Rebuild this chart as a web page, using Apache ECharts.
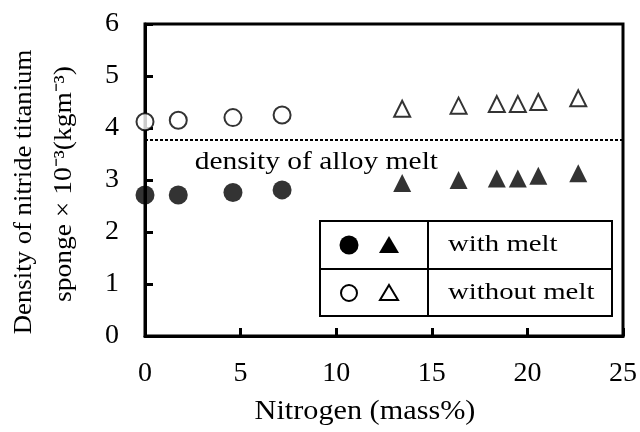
<!DOCTYPE html>
<html>
<head>
<meta charset="utf-8">
<script src="https://cdn.jsdelivr.net/npm/echarts@6/dist/echarts.min.js"></script>
<style>html,body{margin:0;padding:0;background:#fff;}#c{width:640px;height:432px;}</style>
</head>
<body>
<div id="c"></div>
<script>
var xTicks = [0, 5, 10, 15, 20, 25];
var yTicks = [0, 1, 2, 3, 4, 5, 6];
var withMeltCircles = [[0, 2.71], [1.74, 2.71], [4.6, 2.76], [7.17, 2.81]];
var withoutMeltCircles = [[0, 4.12], [1.74, 4.15], [4.6, 4.2], [7.17, 4.25]];
var withMeltTriangles = [[13.45, 2.94], [16.4, 3.0], [18.4, 3.03], [19.5, 3.03], [20.57, 3.08], [22.66, 3.13]];
var withoutMeltTriangles = [[13.45, 4.37], [16.4, 4.43], [18.4, 4.46], [19.5, 4.46], [20.57, 4.5], [22.66, 4.57]];
var alloyMeltDensity = 3.77;
var xTitle = 'Nitrogen (mass%)';
var yTitle1 = 'Density of nitride titanium';
var yTitle2 = 'sponge \u00d7 10\u207b\u00b3(kgm\u207b\u00b3)';
var legendLabels = ['with melt', 'without melt'];
var annotation = 'density of alloy melt';

var FONT = 'Liberation Serif, Times New Roman, Times, serif';
var chart = echarts.init(document.getElementById('c'));
function mk(name, data, symbol, filled, size) {
  return {
    name: name, type: 'scatter', data: data, symbol: symbol, symbolSize: size,
    itemStyle: filled ? {color: '#000'} : {color: '#fff', borderColor: '#000', borderWidth: 2},
    z: 3
  };
}
var series = [
  mk('wmc', withMeltCircles, 'circle', true, 19),
  mk('womc', withoutMeltCircles, 'circle', false, 17),
  mk('wmt', withMeltTriangles, 'triangle', true, 18),
  mk('womt', withoutMeltTriangles, 'triangle', false, 16)
];
series[0].markLine = {
  silent: true, symbol: 'none', label: {show: false},
  lineStyle: {color: '#000', type: [3, 2], width: 2},
  data: [{yAxis: alloyMeltDensity}]
};
chart.setOption({
  animation: false,
  backgroundColor: '#fff',
  grid: {left: 145, right: 15, top: 24, bottom: 96, show: true, borderColor: '#000', borderWidth: 3, backgroundColor: 'transparent'},
  xAxis: {
    type: 'value', min: xTicks[0], max: xTicks[xTicks.length - 1], interval: 5,
    axisLine: {lineStyle: {color: '#000', width: 3}},
    axisTick: {inside: true, length: 8, lineStyle: {color: '#000', width: 3}},
    axisLabel: {color: '#000', fontFamily: FONT, fontSize: 28, margin: 24},
    splitLine: {show: false}
  },
  yAxis: {
    type: 'value', min: yTicks[0], max: yTicks[yTicks.length - 1], interval: 1,
    axisLine: {lineStyle: {color: '#000', width: 3}},
    axisTick: {inside: true, length: 8, lineStyle: {color: '#000', width: 3}},
    axisLabel: {color: '#000', fontFamily: FONT, fontSize: 28, margin: 26},
    splitLine: {show: false}
  },
  series: series
});

var p = chart.convertToPixel({gridIndex: 0}, [2.6, alloyMeltDensity]);
var tStyle = function (text, size, align) {
  return {text: text, fill: '#000', fontFamily: FONT, fontSize: size, textAlign: align || 'left', textVerticalAlign: 'middle'};
};
var lx = 320, ly = 221, lw = 292, lh = 95, ldx = 428, lmy = 269;
chart.setOption({
  graphic: [
    {type: 'text', x: p[0], y: p[1] + 22, scaleX: 1.18, style: tStyle(annotation, 25)},
    {type: 'text', x: 365, y: 412, scaleX: 1.12, style: tStyle(xTitle, 27, 'center')},
    {type: 'text', x: 24, y: 192, rotation: Math.PI / 2, scaleX: 1.07, style: tStyle(yTitle1, 25, 'center')},
    {type: 'text', x: 64, y: 184, rotation: Math.PI / 2, scaleX: 1.1, style: tStyle(yTitle2, 25, 'center')},
    {type: 'rect', shape: {x: lx, y: ly, width: lw, height: lh}, style: {fill: '#fff', stroke: '#000', lineWidth: 2}, z: 10},
    {type: 'line', shape: {x1: ldx, y1: ly, x2: ldx, y2: ly + lh}, style: {stroke: '#000', lineWidth: 2}, z: 11},
    {type: 'line', shape: {x1: lx, y1: lmy, x2: lx + lw, y2: lmy}, style: {stroke: '#000', lineWidth: 2}, z: 11},
    {type: 'circle', shape: {cx: 349, cy: 245, r: 9.5}, style: {fill: '#000'}, z: 11},
    {type: 'polygon', shape: {points: [[389, 236], [399, 253], [379, 253]]}, style: {fill: '#000'}, z: 11},
    {type: 'circle', shape: {cx: 349, cy: 293, r: 8}, style: {fill: '#fff', stroke: '#000', lineWidth: 2}, z: 11},
    {type: 'polygon', shape: {points: [[389, 285], [398, 300], [380, 300]]}, style: {fill: '#fff', stroke: '#000', lineWidth: 2}, z: 11},
    {type: 'text', x: 448, y: 245, scaleX: 1.2, style: tStyle(legendLabels[0], 24), z: 11},
    {type: 'text', x: 448, y: 293, scaleX: 1.2, style: tStyle(legendLabels[1], 24), z: 11}
  ]
});
</script>
</body>
</html>
